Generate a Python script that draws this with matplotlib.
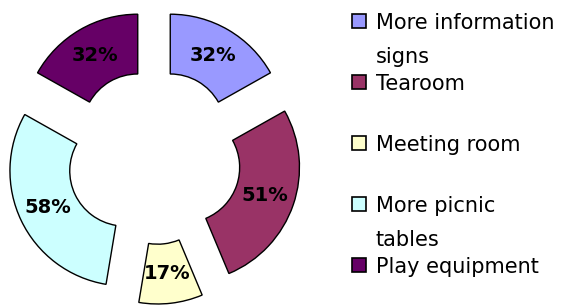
import matplotlib.pyplot as plt
from matplotlib.patches import Rectangle

options = ["More information\nsigns", "Tearoom", "Meeting room",
           "More picnic\ntables", "Play equipment"]
percent = [32, 51, 17, 58, 32]
colours = ["#9999FF", "#993366", "#FFFFCC", "#CCFFFF", "#660066"]

W, H = 562, 305
fig = plt.figure(figsize=(W / 100, H / 100), dpi=100)

# axes spans the figure; radius 1 = R px, ring centre at (cx, cy) px from top-left
R = 115.0
cx, cy = 154.0, 157.0
ax = fig.add_axes([0, 0, 1, 1])
total = sum(percent)
ax.pie(percent, colors=colours, startangle=90, counterclock=False,
       explode=[0.28] * len(percent), radius=1,
       wedgeprops=dict(width=0.52, edgecolor="black", linewidth=1),
       autopct=lambda p: f"{round(p * total / 100)}%", pctdistance=0.74,
       textprops=dict(fontsize=14, fontweight="bold", color="black"))
ax.set_aspect("auto")
ax.set_xlim(-cx / R, (W - cx) / R)
ax.set_ylim(-(H - cy) / R, cy / R)
ax.axis("off")

# legend, Excel style: first line of each entry on an even grid
row0, row_step, line_step = 21, 61, 34
for i, (lab, col) in enumerate(zip(options, colours)):
    y = row0 + i * row_step
    fig.patches.append(Rectangle((352 / W, 1 - (y + 7) / H), 14 / W, 14 / H,
                                 facecolor=col, edgecolor="black", linewidth=1.2,
                                 transform=fig.transFigure, figure=fig))
    for j, line in enumerate(lab.split("\n")):
        fig.text(376 / W, 1 - (y + j * line_step) / H, line, fontsize=15,
                 va="center_baseline", ha="left")

fig.savefig("out.png", dpi=100)
